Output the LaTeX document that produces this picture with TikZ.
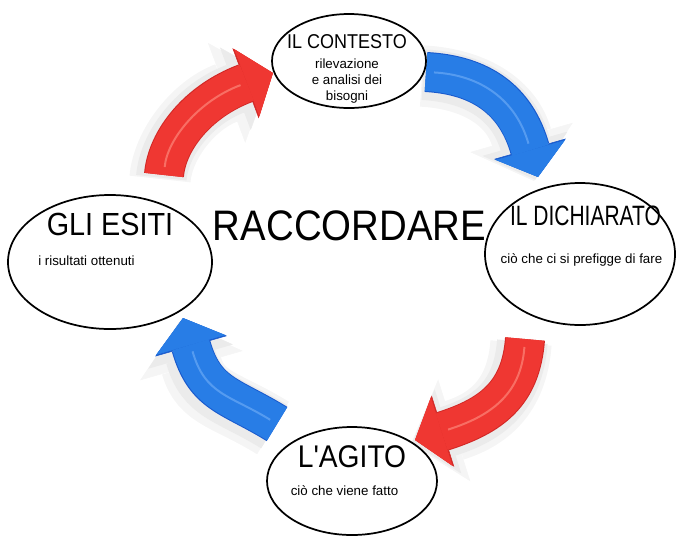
\documentclass[tikz,border=0pt]{standalone}
\usepackage{fontspec}
\setmainfont{Liberation Sans}
\newfontfamily\titlesans[FakeStretch=0.9]{Liberation Sans}
\newfontfamily\narrowsans[FakeStretch=0.75]{Liberation Sans}
\usepackage{xcolor}
\usepackage{tikz}
\usetikzlibrary{arrows.meta}
\usetikzlibrary{shapes.geometric}
\usetikzlibrary{positioning}

\definecolor{arrowred}{RGB}{239,55,50}
\definecolor{redlight}{RGB}{248,110,100}
\definecolor{reddark}{RGB}{210,40,38}
\definecolor{arrowblue}{RGB}{40,125,230}
\definecolor{bluelight}{RGB}{85,155,240}
\definecolor{bluedark}{RGB}{25,90,205}

\tikzset{
  bubble/.style={draw, ellipse, fill=white, line width=1.3pt, inner sep=0pt},
  heading/.style={inner sep=0pt, anchor=base},
  gloss/.style={inner sep=0pt, anchor=base, font=\fontsize{10}{12}\selectfont},
  bigarrow/.style={line width=28.5pt, -{Triangle[width=54pt,length=21pt,line width=0.4pt]},
    preaction={draw=black!4, line width=46pt, -{Triangle[width=80pt,length=34pt,line width=0.4pt]},
      transform canvas={shift={(-3pt,-3pt)}}},
    preaction={draw=black!8, line width=38pt, -{Triangle[width=66pt,length=28pt,line width=0.4pt]},
      transform canvas={shift={(-2pt,-2pt)}}}},
  redarrow/.style={bigarrow, draw=arrowred,
    preaction={draw=reddark, line width=30pt, -{Triangle[width=56pt,length=22pt,line width=0.4pt]}},
    postaction={draw=redlight, line width=1.5pt, -, shorten >=26pt, shorten <=6pt}},
  bluearrow/.style={bigarrow, draw=arrowblue,
    preaction={draw=bluedark, line width=30pt, -{Triangle[width=56pt,length=22pt,line width=0.4pt]}},
    postaction={draw=bluelight, line width=1.5pt, -, shorten >=26pt, shorten <=6pt}}
}

\begin{document}
\begin{tikzpicture}[x=0.75pt,y=0.75pt,yscale=-1,xscale=1]
\useasboundingbox (0,0) rectangle (677,536);

%Arrow ends
\coordinate (esitiout) at (164,175);
\coordinate (contestoin) at (273,73);
\coordinate (contestoout) at (426,72);
\coordinate (dichiaratoin) at (538,177);
\coordinate (dichiaratoout) at (525,339);
\coordinate (agitoin) at (415,440);
\coordinate (agitoout) at (277,424);
\coordinate (esitiin) at (183,318);

%Curve Lines (red, upper left)
\draw[redarrow] (esitiout) .. controls (167,140) and (198,101) .. (contestoin);
%Curve Lines (blue, upper right)
\draw[bluearrow] (contestoout) .. controls (481,75) and (516,100) .. (dichiaratoin);
%Curve Lines (red, lower right)
\draw[redarrow] (dichiaratoout) .. controls (521,394) and (491,416) .. (agitoin);
%Curve Lines (blue, lower left)
\draw[bluearrow] (agitoout) .. controls (230,395) and (205,395) .. (esitiin);

%Shape: Ellipses
\node[bubble, minimum width=115.5pt, minimum height=70.5pt] (contesto) at (349,61) {};
\node[bubble, minimum width=142.5pt, minimum height=106.5pt] (dichiarato) at (580,254) {};
\node[bubble, minimum width=153pt, minimum height=100.5pt] (esiti) at (110,262) {};
\node[bubble, minimum width=127.5pt, minimum height=81pt] (agito) at (352,481) {};

% Text Node
\node[heading, font=\titlesans\fontsize{32}{38}\selectfont] (raccordare) at (349.5,240) {RACCORDARE};
% Text Node
\node[heading, font=\titlesans\fontsize{15}{18}\selectfont] (contestotitle) at (347,48) {IL CONTESTO};
\node[gloss, anchor=center, align=center] (contestonote) at (347,81) {rilevazione\\e analisi dei\\bisogni};
% Text Node
\node[heading, font=\narrowsans\fontsize{21}{25}\selectfont] (dichiaratotitle) at (585.5,225) {IL DICHIARATO};
\node[gloss] (dichiaratonote) at (581.5,263) {ciò che ci si prefigge di fare};
% Text Node
\node[heading, font=\titlesans\fontsize{23.5}{28}\selectfont] (agitotitle) at (352,467) {L'AGITO};
\node[gloss] (agitonote) at (344.5,495) {ciò che viene fatto};
% Text Node
\node[heading, font=\titlesans\fontsize{24}{29}\selectfont] (esititle) at (110,235) {GLI ESITI};
\node[gloss, anchor=base west] (esitinote) at (38,265) {i risultati ottenuti};

\end{tikzpicture}
\end{document}
